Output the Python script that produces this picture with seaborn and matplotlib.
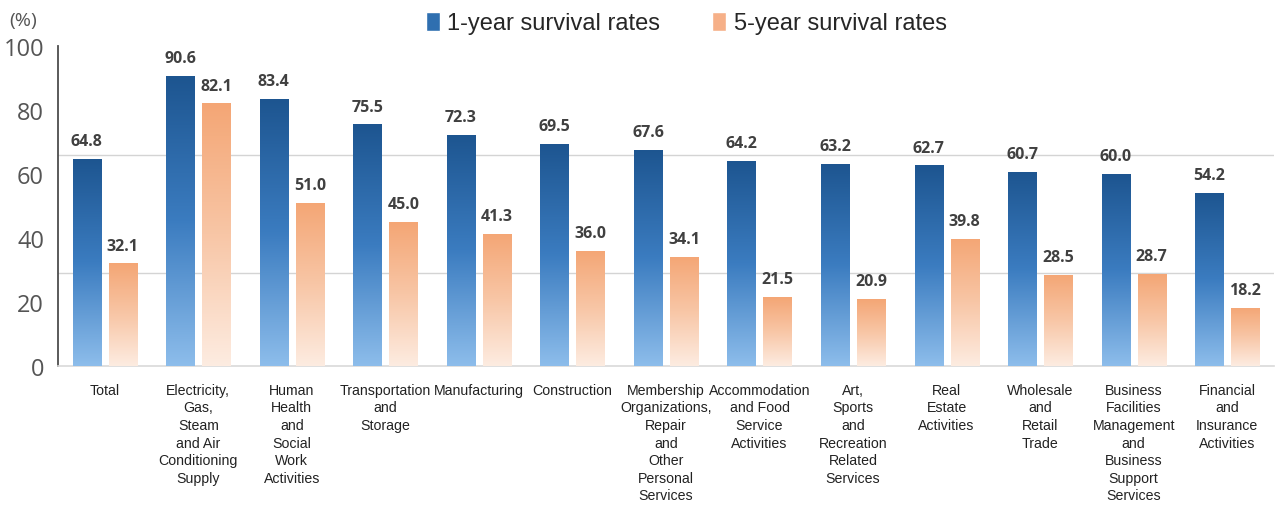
import numpy as np
import pandas as pd
import matplotlib
matplotlib.use("Agg")
import matplotlib.pyplot as plt
from matplotlib import font_manager
from matplotlib.colors import LinearSegmentedColormap
from matplotlib.patches import Patch
import seaborn as sns

# ----------------- DATA -----------------
categories = [
    "Total",
    "Electricity,\nGas,\nSteam\nand Air\nConditioning\nSupply",
    "Human\nHealth\nand\nSocial\nWork\nActivities",
    "Transportation\nand\nStorage",
    "Manufacturing",
    "Construction",
    "Membership\nOrganizations,\nRepair\nand\nOther\nPersonal\nServices",
    "Accommodation\nand Food\nService\nActivities",
    "Art,\nSports\nand\nRecreation\nRelated\nServices",
    "Real\nEstate\nActivities",
    "Wholesale\nand\nRetail\nTrade",
    "Business\nFacilities\nManagement\nand\nBusiness\nSupport\nServices",
    "Financial\nand\nInsurance\nActivities",
]
one_year = [64.8, 90.6, 83.4, 75.5, 72.3, 69.5, 67.6, 64.2, 63.2, 62.7, 60.7, 60.0, 54.2]
five_year = [32.1, 82.1, 51.0, 45.0, 41.3, 36.0, 34.1, 21.5, 20.9, 39.8, 28.5, 28.7, 18.2]
series_names = ["1-year survival rates", "5-year survival rates"]
y_ticks = [0, 20, 40, 60, 80, 100]
ref_lines = [65.9, 29.1]

df = pd.DataFrame({
    "category": categories * 2,
    "rate": one_year + five_year,
    "series": [series_names[0]] * len(categories) + [series_names[1]] * len(categories),
})

blue_cmap = LinearSegmentedColormap.from_list("blue", ["#1d5590", "#3b7cc0", "#8dbdeb"])
orange_cmap = LinearSegmentedColormap.from_list("orange", ["#f4a675", "#f8c6a6", "#fdece1"])

# narrow font for the category labels if there is one
narrow_ok = False
try:
    fp = font_manager.findfont(font_manager.FontProperties(family="Liberation Sans Narrow"),
                               fallback_to_default=False)
    narrow_ok = "Narrow" in fp
except Exception:
    narrow_ok = False
if narrow_ok:
    xlab_family, xlab_size, xlab_spacing = "Liberation Sans Narrow", 12.5, 1.1
else:
    xlab_family, xlab_size, xlab_spacing = "Liberation Sans", 10.2, 1.33

# ----------------- PLOT -----------------
sns.set_style("white")
fig = plt.figure(figsize=(12.78, 5.06), dpi=100)
ax = fig.add_axes([58 / 1278, 139 / 506, (1274 - 58) / 1278, (367 - 47) / 506])

sns.barplot(data=df, x="category", y="rate", hue="series", hue_order=series_names,
            palette=["#2f6fb0", "#f6b088"], width=0.77, gap=0.22, legend=False, ax=ax,
            zorder=3)

for line_y in ref_lines:
    ax.axhline(line_y, color="#d4d4d4", linewidth=1, zorder=1)

# gradient fill for every bar
grad = np.linspace(0, 1, 256).reshape(-1, 1)
for container, cmap in zip(ax.containers, [blue_cmap, orange_cmap]):
    for bar in container:
        x0, w, h = bar.get_x(), bar.get_width(), bar.get_height()
        bar.set_facecolor("none")
        bar.set_edgecolor("none")
        im = ax.imshow(grad, extent=[x0, x0 + w, 0, h], origin="upper", aspect="auto",
                       cmap=cmap, zorder=3)
        im.set_clip_path(bar)
    ax.bar_label(container, fmt="%.1f", padding=7, fontsize=11.5, fontweight="bold",
                 color="#404040", family="Open Sans")

ax.set_xlim(-0.5, len(categories) - 0.5)
ax.set_ylim(0, 100)
ax.set_yticks(y_ticks)
ax.set_xlabel("")
ax.set_ylabel("")

for s in ["top", "right"]:
    ax.spines[s].set_visible(False)
ax.spines["left"].set_color("#4d4d4d")
ax.spines["left"].set_linewidth(1.3)
ax.spines["bottom"].set_color("#d9d9d9")
ax.spines["bottom"].set_linewidth(1.2)

ax.tick_params(axis="y", direction="out", length=7, width=1.3, color="#4d4d4d",
               labelsize=17, labelcolor="#555555", pad=3)
ax.tick_params(axis="x", length=0, pad=12)
for lbl in ax.get_yticklabels():
    lbl.set_family("Open Sans")
for lbl in ax.get_xticklabels():
    lbl.set_family(xlab_family)
    lbl.set_fontsize(xlab_size)
    lbl.set_color("#222222")
    lbl.set_linespacing(xlab_spacing)
    lbl.set_verticalalignment("top")

fig.text(9 / 1278, 1 - 21 / 506, "(%)", fontsize=14, color="#555555",
         family="Open Sans", va="center")

handles = [Patch(facecolor="#2f6fb0"), Patch(facecolor="#f6b088")]
fig.legend(handles, series_names, loc="center", bbox_to_anchor=(0.537, 1 - 24 / 506),
           ncol=2, frameon=False, handlelength=0.6, handleheight=0.9,
           handletextpad=0.3, columnspacing=2.2, prop={"family": "Liberation Sans", "size": 17})

fig.savefig("out.png", dpi=100)
